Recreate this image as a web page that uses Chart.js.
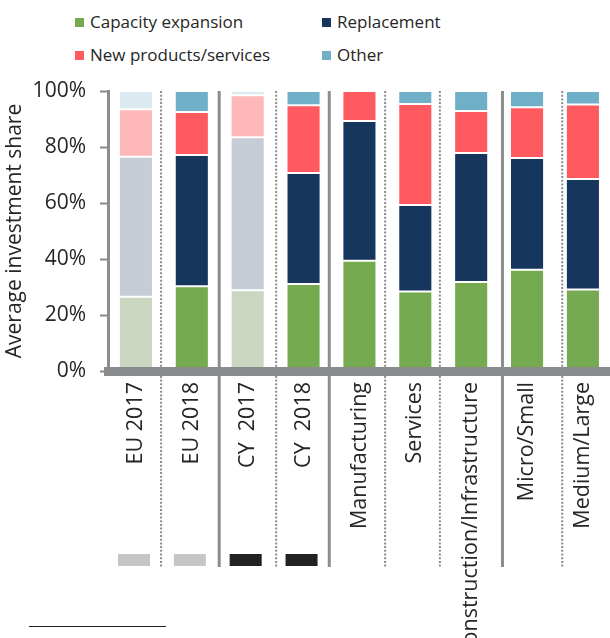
<!DOCTYPE html>
<html>
<head>
<meta charset="utf-8">
<script src="https://cdn.jsdelivr.net/npm/chart.js@4/dist/chart.umd.min.js"></script>
<style>
  html, body { margin: 0; padding: 0; background: #fff; overflow: hidden; }
  #wrap { position: relative; width: 610px; height: 638px; overflow: hidden; }
  #grafico { position: absolute; left: 0; top: 0; }
  .legenda { position: absolute; font-family: "Open Sans", sans-serif; font-size: 17px; color: #262626; }
  .legenda span.item { position: absolute; white-space: nowrap; line-height: 20px; }
  .legenda i { display: inline-block; width: 9px; height: 9px; margin-right: 6px; vertical-align: 1px; }
  #rodape { position: absolute; left: 29px; top: 626px; width: 137px; height: 1px; background: #222; }
</style>
</head>
<body>
<div id="wrap">
  <div class="legenda" id="legenda"></div>
  <canvas id="grafico" width="620" height="638"></canvas>
  <div id="rodape"></div>
</div>
<script>
// Categorias e valores (% do investimento médio)
const categorias = ['EU 2017', 'EU 2018', 'CY  2017', 'CY  2018', 'Manufacturing', 'Services',
  'Construction/Infrastructure', 'Micro/Small', 'Medium/Large'];
const capacidade = [26.5, 30.3, 28.8, 31.1, 39.4, 28.4, 31.8, 36.2, 29.1];
const substituicao = [50.0, 46.8, 54.7, 39.6, 49.9, 30.9, 46.1, 39.9, 39.5];
const novosProdutos = [17.0, 15.4, 15.0, 24.2, 10.7, 36.1, 15.0, 18.1, 26.6];
const outros = [6.5, 7.5, 1.5, 5.1, 0.0, 4.6, 7.1, 5.8, 4.8];
const yTicks = [0, 20, 40, 60, 80, 100];

// Barras de 2017 aparecem esmaecidas
const esmaecida = [true, false, true, false, false, false, false, false, false];
// Separadores entre categorias (posição em unidades de categoria)
const separadores = [
  { pos: 0.45, tipo: 'dot' }, { pos: 1.49, tipo: 'solid' }, { pos: 2.51, tipo: 'dot' },
  { pos: 3.46, tipo: 'solid' }, { pos: 4.46, tipo: 'dot' }, { pos: 5.44, tipo: 'dot' },
  { pos: 6.56, tipo: 'solid' }, { pos: 7.63, tipo: 'dot' }
];
// Marcadores abaixo dos rótulos (EU claro, CY escuro)
const marcadores = ['#c6c6c6', '#c6c6c6', '#222222', '#222222', null, null, null, null, null];

const series = [
  { label: 'Capacity expansion', data: capacidade, cor: '#75aa50', corFraca: '#cad6bf' },
  { label: 'Replacement', data: substituicao, cor: '#17365d', corFraca: '#c6cdd6' },
  { label: 'New products/services', data: novosProdutos, cor: '#ff5a5f', corFraca: '#ffb8ba' },
  { label: 'Other', data: outros, cor: '#6fb0c8', corFraca: '#dbe9f0' }
];

// Legenda em grade 2x2
const legenda = document.getElementById('legenda');
const posLegenda = [[75, 12], [322, 12], [75, 45], [322, 45]];
series.forEach((s, i) => {
  const el = document.createElement('span');
  el.className = 'item';
  el.style.left = posLegenda[i][0] + 'px';
  el.style.top = posLegenda[i][1] + 'px';
  el.innerHTML = `<i style="background:${s.cor}"></i>${s.label}`;
  legenda.appendChild(el);
});

const decoracoes = {
  id: 'decoracoes',
  beforeDatasetsDraw(chart) {
    const ctx = chart.ctx;
    const x = chart.scales.x;
    const top = chart.chartArea.top;
    ctx.save();
    separadores.forEach(sep => {
      const px = x.getPixelForValue(sep.pos);
      ctx.beginPath();
      ctx.strokeStyle = '#8a8c8e';
      if (sep.tipo === 'solid') {
        ctx.lineWidth = 3;
        ctx.setLineDash([]);
      } else {
        ctx.lineWidth = 2;
        ctx.setLineDash([2, 1.7]);
      }
      ctx.moveTo(px, top);
      ctx.lineTo(px, 567);
      ctx.stroke();
    });
    ctx.setLineDash([]);
    marcadores.forEach((cor, i) => {
      if (!cor) return;
      const px = x.getPixelForValue(i);
      ctx.fillStyle = cor;
      ctx.fillRect(px - 18, 554, 32, 12);
    });
    ctx.restore();
  }
};

new Chart(document.getElementById('grafico'), {
  type: 'bar',
  data: {
    labels: categorias,
    datasets: series.map(s => ({
      label: s.label,
      data: s.data,
      backgroundColor: s.data.map((v, i) => esmaecida[i] ? s.corFraca : s.cor),
      borderColor: '#ffffff',
      borderWidth: 1,
      borderSkipped: false,
      categoryPercentage: 1,
      barPercentage: 0.61
    }))
  },
  options: {
    responsive: false,
    animation: false,
    layout: { padding: { top: 91, right: 5, left: 0, bottom: 0 } },
    plugins: {
      legend: { display: false },
      tooltip: { enabled: false }
    },
    scales: {
      x: {
        stacked: true,
        grid: { display: false, drawTicks: false },
        border: { display: true, color: '#898b8d', width: 9, z: 1 },
        ticks: {
          autoSkip: false,
          maxRotation: 90,
          minRotation: 90,
          padding: 11,
          color: '#262626',
          font: { family: 'Open Sans', size: 21.5 }
        },
        afterFit: (scale) => { scale.height = 638 - 371; }
      },
      y: {
        stacked: true,
        min: 0,
        max: 100,
        afterBuildTicks: (scale) => { scale.ticks = yTicks.map(v => ({ value: v })); },
        grid: { drawOnChartArea: false, drawTicks: true, tickLength: 8, tickColor: '#8a8c8e', tickWidth: 2 },
        border: { display: true, color: '#8a8c8e', width: 3 },
        ticks: {
          padding: 14,
          color: '#262626',
          font: { family: 'Open Sans', size: 21 },
          callback: (v) => v + '%'
        },
        title: {
          display: true,
          text: 'Average investment share',
          color: '#262626',
          font: { family: 'Open Sans', size: 21 },
          padding: { top: 2, bottom: 0 }
        },
        afterFit: (scale) => { scale.width = 108; }
      }
    }
  },
  plugins: [decoracoes]
});
</script>
</body>
</html>
